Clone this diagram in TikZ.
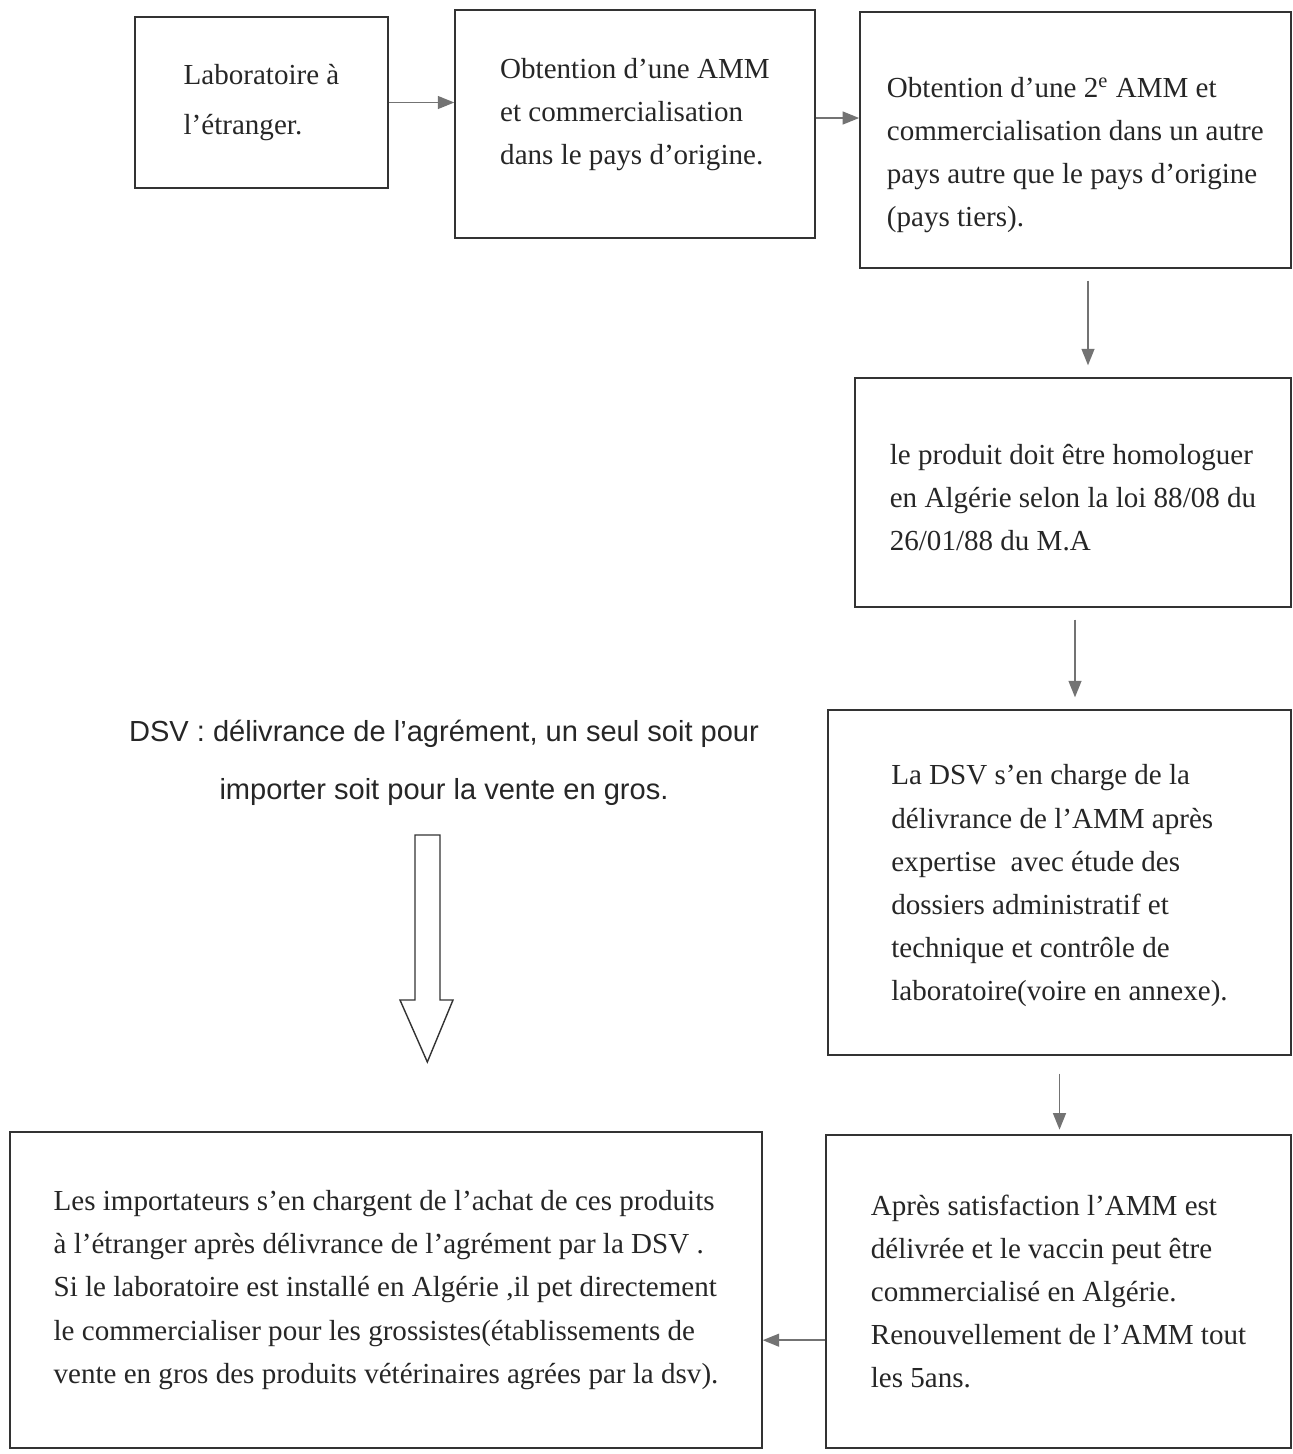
\documentclass[tikz,border=0pt]{standalone}
\usepackage{fontspec}
\setmainfont{Liberation Serif}
\newfontfamily\notefont{Liberation Sans}
\usetikzlibrary{positioning, arrows.meta}

\begin{document}
\begin{tikzpicture}
    [block/.style={
        rectangle,
        draw=black!80,
        line width=0.6pt,
        align=left,
        text=black!85,
        font=\fontsize{12.4}{18.4}\selectfont,
        inner sep=0pt
    },
    line/.style={
        draw=black!55, line width=0.6pt, -{Triangle[length=7pt,width=5.5pt]}
    },
    gapline/.style={
        line, shorten <=0.18cm, shorten >=0.18cm
    },
    note/.style={
        align=center,
        text=black!85,
        font=\notefont\fontsize{12.4}{24.7}\selectfont
    },
    hollow/.style={
        draw=black!80, line width=0.6pt, line join=miter
    }
    ]

    \useasboundingbox (0,0) rectangle (19.395,-21.81);

    % Top row
    \node[block, minimum width=3.795cm, minimum height=2.565cm] (lab) at (3.9225,-1.5375)
        {Laboratoire à\\[3pt]l’étranger.};
    \node[block, minimum width=5.4cm, minimum height=3.42cm] (amm1) at (9.525,-1.86)
        {Obtention d’une AMM\\et commercialisation\\dans le pays d’origine.\rule[-0.38cm]{0pt}{0pt}};
    \node[block, minimum width=6.465cm, minimum height=3.84cm] (amm2) at (16.13,-2.1)
        {\rule{0pt}{0.75cm}Obtention d’une 2\textsuperscript{e} AMM et\\commercialisation dans un autre\\pays autre que le pays d’origine\\(pays tiers).};

    % Right column
    \node[block, minimum width=6.54cm, minimum height=3.435cm] (homol) at (16.095,-7.3875)
        {\rule{0pt}{0.45cm}le produit doit être homologuer\\en Algérie selon la loi 88/08 du\\26/01/88 du M.A};
    \node[block, minimum width=6.945cm, minimum height=5.175cm] (dsv) at (15.8925,-13.2375)
        {\rule{0pt}{0.4cm}La DSV s’en charge de la\\délivrance de l’AMM après\\expertise~ avec étude des\\dossiers administratif et\\technique et contrôle de\\laboratoire(voire en annexe).};
    \node[block, minimum width=6.975cm, minimum height=4.695cm] (satis) at (15.8775,-19.3725)
        {Après satisfaction l’AMM est\\délivrée et le vaccin peut être\\commercialisé en Algérie.\\Renouvellement de l’AMM tout\\les 5ans.};

    % Bottom left
    \node[block, minimum width=11.28cm, minimum height=4.74cm] (import) at (5.79,-19.35)
        {Les importateurs s’en chargent de l’achat de ces produits\\à l’étranger après délivrance de l’agrément par la DSV .\\Si le laboratoire est installé en Algérie ,il pet directement\\le commercialiser pour les grossistes(établissements de\\vente en gros des produits vétérinaires agrées par la dsv).};

    % Agrement note with its hollow arrow
    \node[note] (dsvnote) at (6.66,-11.44)
        {DSV : délivrance de l’agrément, un seul soit pour\\importer soit pour la vente en gros.};
    \coordinate (bigtop) at (6.41,-12.525);
    \draw[hollow] (bigtop) ++(-0.185,0) -- ++(0.375,0) -- ++(0,-2.475) -- ++(0.195,0)
        -- (6.41,-15.93) -- (6.0,-15.0) -- ++(0.225,0) -- cycle;

    % Connectors
    \path[line] (lab.east) -- (lab.east -| amm1.west);
    \path[line] ([yshift=0.09cm]amm1.east) -- ([yshift=0.09cm]amm1.east -| amm2.west);
    \path[gapline] ([xshift=0.19cm]amm2.south) -- ([xshift=0.19cm]amm2.south |- homol.north);
    \path[gapline] ([xshift=0.03cm]homol.south) -- ([xshift=0.03cm]homol.south |- dsv.north);
    \path[line, shorten <=0.27cm, shorten >=0.07cm] (dsv.south) -- (dsv.south |- satis.north);
    \path[line] ([yshift=-0.73cm]satis.west) -- ([yshift=-0.73cm]satis.west -| import.east);
\end{tikzpicture}
\end{document}
